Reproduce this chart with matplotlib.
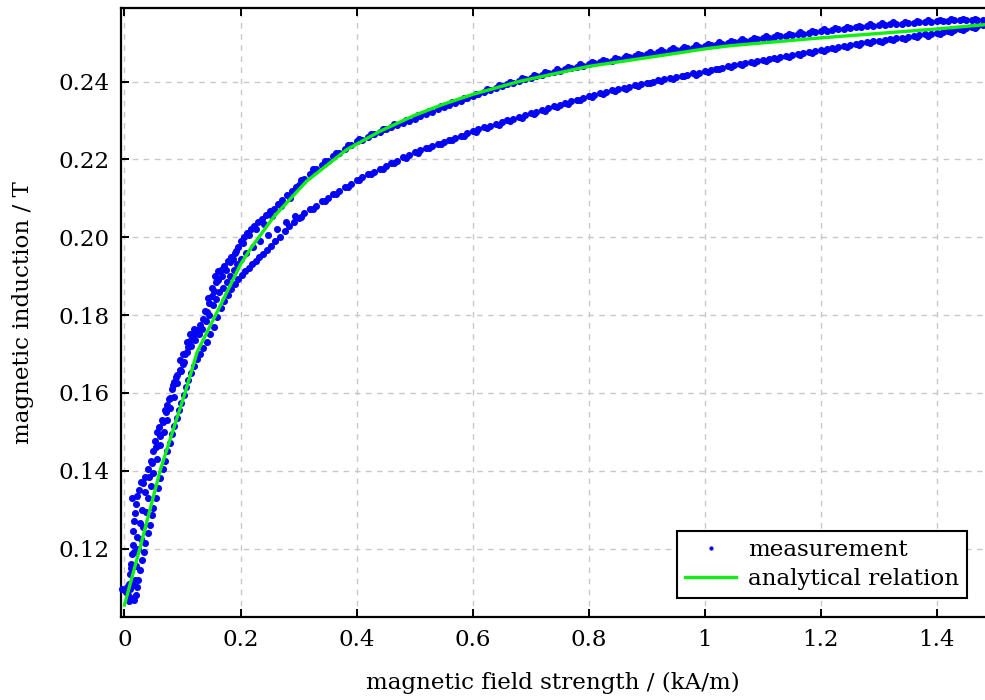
import matplotlib
matplotlib.use("Agg")
import matplotlib.pyplot as plt

# ---------------- data ----------------
# descending (upper) branch of the measured loop
upper_x = [-0.004, 0.002, 0.006, 0.008, 0.010, 0.012, 0.013, 0.014, 0.015, 0.016, 0.018, 0.020,
           0.022, 0.025, 0.028, 0.032, 0.035, 0.040, 0.045, 0.050, 0.053, 0.056, 0.060, 0.065,
           0.070, 0.074, 0.078, 0.082, 0.086, 0.090, 0.095, 0.100, 0.105, 0.110, 0.115, 0.120,
           0.126, 0.131, 0.136, 0.142, 0.146, 0.150, 0.154, 0.158, 0.162, 0.168, 0.172, 0.178,
           0.184, 0.190, 0.196, 0.200, 0.206, 0.212, 0.218, 0.224, 0.230, 0.237, 0.244, 0.250,
           0.257, 0.264, 0.272, 0.280, 0.288, 0.296,
           0.30, 0.31, 0.32, 0.33, 0.34, 0.35, 0.36, 0.37, 0.38, 0.39, 0.40, 0.41, 0.42, 0.43,
           0.44, 0.45, 0.46, 0.47, 0.48, 0.49, 0.50, 0.51, 0.52, 0.53, 0.54, 0.55, 0.56, 0.57,
           0.58, 0.59, 0.60, 0.61, 0.62, 0.63, 0.64, 0.65, 0.66, 0.67, 0.68, 0.69, 0.70, 0.71,
           0.72, 0.73, 0.74, 0.75, 0.76, 0.77, 0.78, 0.79, 0.80, 0.81, 0.82, 0.83, 0.84, 0.85,
           0.86, 0.87, 0.88, 0.89, 0.90, 0.91, 0.92, 0.93, 0.94, 0.95, 0.96, 0.97, 0.98, 0.99,
           1.00, 1.01, 1.02, 1.03, 1.04, 1.05, 1.06, 1.07, 1.08, 1.09, 1.10, 1.11, 1.12, 1.13,
           1.14, 1.15, 1.16, 1.17, 1.18, 1.19, 1.20, 1.21, 1.22, 1.23, 1.24, 1.25, 1.26, 1.27,
           1.28, 1.29, 1.30, 1.31, 1.32, 1.33, 1.34, 1.35, 1.36, 1.37, 1.38, 1.39, 1.40, 1.41,
           1.42, 1.43, 1.44, 1.45, 1.46, 1.47, 1.48]
upper_y = [0.1095, 0.1088, 0.1080, 0.1110, 0.1135, 0.1160, 0.1185, 0.1210, 0.1245, 0.1270, 0.1290, 0.1315,
           0.1335, 0.1350, 0.1372, 0.1368, 0.1385, 0.1405, 0.1425, 0.1450, 0.1475, 0.1500, 0.1512, 0.1530,
           0.1555, 0.1570, 0.1588, 0.1610, 0.1628, 0.1645, 0.1660, 0.1675, 0.1700, 0.1718, 0.1735, 0.1748,
           0.1762, 0.1775, 0.1790, 0.1808, 0.1830, 0.1848, 0.1862, 0.1885, 0.1912, 0.1900, 0.1925, 0.1938,
           0.1950, 0.1960, 0.1975, 0.1990, 0.2000, 0.2012, 0.2020, 0.2030, 0.2040, 0.2048, 0.2058, 0.2068,
           0.2072, 0.2085, 0.2095, 0.2108, 0.2118, 0.2130,
           0.2135, 0.2150, 0.2163, 0.2175, 0.2186, 0.2197, 0.2208, 0.2216, 0.2226, 0.2236, 0.2246, 0.2250, 0.2257, 0.2264,
           0.2271, 0.2278, 0.2284, 0.2289, 0.2294, 0.2299, 0.2305, 0.2311, 0.2317, 0.2323, 0.2329, 0.2335, 0.2340, 0.2346,
           0.2351, 0.2357, 0.2362, 0.2367, 0.2373, 0.2378, 0.2383, 0.2388, 0.2393, 0.2397, 0.2402, 0.2406, 0.2410, 0.2414,
           0.2418, 0.2421, 0.2425, 0.2428, 0.2431, 0.2435, 0.2438, 0.2441, 0.2444, 0.2447, 0.2449, 0.2452, 0.2454, 0.2457,
           0.2460, 0.2462, 0.2465, 0.2467, 0.2470, 0.2472, 0.2475, 0.2477, 0.2480, 0.2482, 0.2484, 0.2486, 0.2487, 0.2489,
           0.2491, 0.2493, 0.2495, 0.2497, 0.2499, 0.2501, 0.2503, 0.2505, 0.2507, 0.2509, 0.2511, 0.2513, 0.2514, 0.2516,
           0.2518, 0.2519, 0.2521, 0.2523, 0.2525, 0.2527, 0.2529, 0.2531, 0.2532, 0.2534, 0.2535, 0.2537, 0.2539, 0.2540,
           0.2542, 0.2543, 0.2545, 0.2546, 0.2547, 0.2548, 0.2549, 0.2550, 0.2551, 0.2552, 0.2553, 0.2554, 0.2555, 0.2556,
           0.2556, 0.2557, 0.2557, 0.2558, 0.2558, 0.2559, 0.2559]

# second pass over the upper branch (the band is two dots thick)
upper2_x = [0.305, 0.325, 0.345, 0.365, 0.385, 0.405, 0.425, 0.445, 0.465, 0.485, 0.505, 0.525,
            0.545, 0.565, 0.585, 0.605, 0.625, 0.645, 0.665, 0.685, 0.705, 0.725, 0.745, 0.765,
            0.785, 0.805, 0.825, 0.845, 0.865, 0.885, 0.905, 0.925, 0.945, 0.965, 0.985, 1.005,
            1.025, 1.045, 1.065, 1.085, 1.105, 1.125, 1.145, 1.165, 1.185, 1.205, 1.225, 1.245,
            1.265, 1.285, 1.305, 1.325, 1.345, 1.365, 1.385, 1.405, 1.425, 1.445, 1.465]
upper2_y = [0.2147, 0.2174, 0.2197, 0.2217, 0.2236, 0.2253, 0.2265, 0.2279, 0.2291, 0.2301, 0.2313, 0.2325,
            0.2337, 0.2348, 0.2359, 0.2369, 0.2380, 0.2390, 0.2400, 0.2409, 0.2417, 0.2424, 0.2431, 0.2438,
            0.2444, 0.2450, 0.2455, 0.2460, 0.2466, 0.2471, 0.2476, 0.2481, 0.2486, 0.2490, 0.2493, 0.2497,
            0.2501, 0.2505, 0.2509, 0.2513, 0.2517, 0.2520, 0.2523, 0.2527, 0.2531, 0.2535, 0.2538, 0.2541,
            0.2544, 0.2547, 0.2550, 0.2552, 0.2554, 0.2556, 0.2558, 0.2559, 0.2560, 0.2561, 0.2561]

# ascending (lower) branch of the measured loop
lower_x = [0.008, 0.012, 0.016, 0.020, 0.022, 0.024, 0.026, 0.030, 0.033, 0.036, 0.040, 0.044,
           0.047, 0.050, 0.054, 0.058, 0.062, 0.066, 0.070, 0.074, 0.078, 0.082, 0.086, 0.090,
           0.094, 0.098, 0.102, 0.106, 0.110, 0.115, 0.120, 0.125, 0.130, 0.136, 0.142, 0.148,
           0.154, 0.160, 0.166, 0.172, 0.178, 0.184, 0.190, 0.196, 0.202, 0.208, 0.214, 0.220,
           0.226, 0.232, 0.238, 0.245, 0.252, 0.260, 0.268, 0.276, 0.284, 0.292,
           0.30, 0.31, 0.32, 0.33, 0.34, 0.35, 0.36, 0.37, 0.38, 0.39, 0.40, 0.41, 0.42, 0.43,
           0.44, 0.45, 0.46, 0.47, 0.48, 0.49, 0.50, 0.51, 0.52, 0.53, 0.54, 0.55, 0.56, 0.57,
           0.58, 0.59, 0.60, 0.61, 0.62, 0.63, 0.64, 0.65, 0.66, 0.67, 0.68, 0.69, 0.70, 0.71,
           0.72, 0.73, 0.74, 0.75, 0.76, 0.77, 0.78, 0.79, 0.80, 0.81, 0.82, 0.83, 0.84, 0.85,
           0.86, 0.87, 0.88, 0.89, 0.90, 0.91, 0.92, 0.93, 0.94, 0.95, 0.96, 0.97, 0.98, 0.99,
           1.00, 1.01, 1.02, 1.03, 1.04, 1.05, 1.06, 1.07, 1.08, 1.09, 1.10, 1.11, 1.12, 1.13,
           1.14, 1.15, 1.16, 1.17, 1.18, 1.19, 1.20, 1.21, 1.22, 1.23, 1.24, 1.25, 1.26, 1.27,
           1.28, 1.29, 1.30, 1.31, 1.32, 1.33, 1.34, 1.35, 1.36, 1.37, 1.38, 1.39, 1.40, 1.41,
           1.42, 1.43, 1.44, 1.45, 1.46, 1.47, 1.48]
lower_y = [0.1065, 0.1072, 0.1068, 0.1080, 0.1100, 0.1120, 0.1145, 0.1170, 0.1190, 0.1215, 0.1240, 0.1260,
           0.1285, 0.1305, 0.1330, 0.1355, 0.1380, 0.1405, 0.1425, 0.1450, 0.1470, 0.1495, 0.1515, 0.1535,
           0.1555, 0.1575, 0.1595, 0.1615, 0.1632, 0.1650, 0.1668, 0.1686, 0.1700, 0.1715, 0.1730, 0.1750,
           0.1770, 0.1795, 0.1818, 0.1835, 0.1852, 0.1866, 0.1880, 0.1892, 0.1903, 0.1912, 0.1920, 0.1930,
           0.1940, 0.1950, 0.1958, 0.1968, 0.1978, 0.1990, 0.2000, 0.2015, 0.2030, 0.2040,
           0.2050, 0.2062, 0.2072, 0.2080, 0.2092, 0.2100, 0.2110, 0.2120, 0.2128, 0.2136, 0.2148, 0.2155, 0.2163, 0.2168,
           0.2174, 0.2182, 0.2190, 0.2197, 0.2205, 0.2211, 0.2218, 0.2223, 0.2229, 0.2234, 0.2240, 0.2245, 0.2250, 0.2256,
           0.2261, 0.2267, 0.2272, 0.2277, 0.2282, 0.2286, 0.2291, 0.2295, 0.2300, 0.2304, 0.2309, 0.2313, 0.2318, 0.2322,
           0.2327, 0.2331, 0.2336, 0.2340, 0.2345, 0.2349, 0.2353, 0.2358, 0.2362, 0.2366, 0.2370, 0.2373, 0.2377, 0.2380,
           0.2384, 0.2387, 0.2391, 0.2394, 0.2397, 0.2400, 0.2403, 0.2406, 0.2409, 0.2412, 0.2415, 0.2418, 0.2421, 0.2423,
           0.2426, 0.2429, 0.2433, 0.2436, 0.2439, 0.2442, 0.2445, 0.2447, 0.2450, 0.2452, 0.2455, 0.2458, 0.2461, 0.2464,
           0.2466, 0.2469, 0.2472, 0.2474, 0.2477, 0.2479, 0.2482, 0.2484, 0.2487, 0.2489, 0.2491, 0.2494, 0.2496, 0.2498,
           0.2501, 0.2503, 0.2505, 0.2507, 0.2509, 0.2511, 0.2513, 0.2515, 0.2517, 0.2519, 0.2521, 0.2523, 0.2525, 0.2527,
           0.2530, 0.2532, 0.2534, 0.2537, 0.2540, 0.2542, 0.2545]

# second pass over the lower branch
lower2_x = [0.305, 0.325, 0.345, 0.365, 0.385, 0.405, 0.425, 0.445, 0.465, 0.485, 0.505, 0.525,
            0.545, 0.565, 0.585, 0.605, 0.625, 0.645, 0.665, 0.685, 0.705, 0.725, 0.745, 0.765,
            0.785, 0.805, 0.825, 0.845, 0.865, 0.885, 0.905, 0.925, 0.945, 0.965, 0.985, 1.005,
            1.025, 1.045, 1.065, 1.085, 1.105, 1.125, 1.145, 1.165, 1.185, 1.205, 1.225, 1.245,
            1.265, 1.285, 1.305, 1.325, 1.345, 1.365, 1.385, 1.405, 1.425, 1.445, 1.465]
lower2_y = [0.2052, 0.2072, 0.2092, 0.2111, 0.2128, 0.2148, 0.2162, 0.2174, 0.2190, 0.2204, 0.2217, 0.2228,
            0.2239, 0.2249, 0.2260, 0.2271, 0.2280, 0.2289, 0.2298, 0.2307, 0.2316, 0.2325, 0.2334, 0.2343,
            0.2352, 0.2360, 0.2368, 0.2375, 0.2382, 0.2389, 0.2395, 0.2401, 0.2407, 0.2413, 0.2418, 0.2424,
            0.2431, 0.2437, 0.2442, 0.2447, 0.2453, 0.2459, 0.2464, 0.2469, 0.2474, 0.2479, 0.2484, 0.2489,
            0.2493, 0.2498, 0.2502, 0.2506, 0.2510, 0.2514, 0.2518, 0.2522, 0.2527, 0.2532, 0.2538]

# extra scatter of the low-field region (x < 0.3)
cloud_x = [0.004, 0.010, 0.014, 0.018, 0.012, 0.020, 0.017, 0.024, 0.021, 0.028, 0.026, 0.032,
           0.030, 0.037, 0.013, 0.040, 0.035, 0.045, 0.042, 0.050, 0.048, 0.056, 0.054, 0.062,
           0.061, 0.068, 0.066, 0.073, 0.072, 0.079, 0.077, 0.085, 0.083, 0.091, 0.089, 0.097,
           0.095, 0.103, 0.101, 0.108, 0.107, 0.114, 0.113, 0.121, 0.119, 0.128, 0.134, 0.140,
           0.138, 0.146, 0.144, 0.152, 0.150, 0.157, 0.156, 0.163, 0.161, 0.170, 0.166, 0.176,
           0.175, 0.182, 0.181, 0.188, 0.187, 0.194, 0.193, 0.200, 0.205, 0.210, 0.215, 0.222,
           0.226, 0.234, 0.240, 0.248, 0.254, 0.262, 0.270, 0.278, 0.286, 0.294]
cloud_y = [0.1100, 0.1095, 0.1105, 0.1120, 0.1150, 0.1155, 0.1190, 0.1200, 0.1230, 0.1225, 0.1265, 0.1255,
           0.1300, 0.1295, 0.1330, 0.1330, 0.1345, 0.1360, 0.1385, 0.1395, 0.1420, 0.1430, 0.1460, 0.1465,
           0.1490, 0.1500, 0.1525, 0.1530, 0.1550, 0.1560, 0.1585, 0.1590, 0.1620, 0.1625, 0.1640, 0.1655,
           0.1685, 0.1680, 0.1700, 0.1705, 0.1730, 0.1720, 0.1750, 0.1735, 0.1765, 0.1750, 0.1765, 0.1785,
           0.1810, 0.1800, 0.1845, 0.1825, 0.1870, 0.1840, 0.1900, 0.1860, 0.1890, 0.1870, 0.1915, 0.1885,
           0.1915, 0.1900, 0.1935, 0.1915, 0.1945, 0.1930, 0.1965, 0.1945, 0.1985, 0.1960, 0.2005, 0.1975,
           0.2020, 0.1990, 0.2035, 0.2005, 0.2055, 0.2020, 0.2080, 0.2040, 0.2100, 0.2055]

# analytical relation (green line)
model_x = [0.0, 0.0275, 0.062, 0.105, 0.125, 0.157, 0.200, 0.217, 0.257, 0.314, 0.383,
           0.44, 0.498, 0.55, 0.60, 0.682, 0.80, 0.957, 1.0, 1.043, 1.198, 1.399, 1.482]
model_y = [0.1055, 0.1206, 0.1403, 0.1603, 0.1704, 0.1800, 0.1930, 0.1970, 0.2052, 0.2144, 0.2225,
           0.2272, 0.2312, 0.2342, 0.2367, 0.2401, 0.2439, 0.2474, 0.2484, 0.2492, 0.2512, 0.2535, 0.2546]

x_ticks = [0, 0.2, 0.4, 0.6, 0.8, 1.0, 1.2, 1.4]
x_tick_labels = ["0", "0.2", "0.4", "0.6", "0.8", "1", "1.2", "1.4"]
y_ticks = [0.12, 0.14, 0.16, 0.18, 0.20, 0.22, 0.24]
y_tick_labels = ["0.12", "0.14", "0.16", "0.18", "0.20", "0.22", "0.24"]

# ---------------- figure ----------------
plt.rcParams['font.family'] = ['DejaVu Serif']
plt.rcParams['font.size'] = 16.6

fig = plt.figure(figsize=(9.85, 7.0), dpi=100)
ax = fig.add_axes([121 / 985, 83 / 700, 1 - 121 / 985, 609 / 700])

meas_x = upper_x + upper2_x + lower_x + lower2_x + cloud_x
meas_y = upper_y + upper2_y + lower_y + lower2_y + cloud_y
ax.plot(meas_x, meas_y, linestyle='none', marker='o',
        markersize=5.1, markeredgewidth=0, color='#0505f5', label='measurement', zorder=3,
        clip_on=False)
ax.plot(model_x, model_y, color='#11ee11', lw=2.4, label='analytical relation', zorder=4)

ax.set_xlim(-0.006, 1.483)
ax.set_ylim(0.1024, 0.2589)
ax.set_xticks(x_ticks)
ax.set_xticklabels(x_tick_labels)
ax.set_yticks(y_ticks)
ax.set_yticklabels(y_tick_labels)

ax.grid(True, color='#c8c8c8', linestyle=(0, (4, 4)), lw=1.0)
ax.set_axisbelow(True)
ax.tick_params(direction='in', top=True, right=False, length=6, width=1.4, pad=8.5)
for side in ['left', 'bottom', 'top']:
    ax.spines[side].set_linewidth(1.6)
ax.spines['right'].set_visible(False)

ax.set_xlabel('magnetic field strength / (kA/m)', labelpad=15)
ax.set_ylabel('magnetic induction / T', labelpad=17)

leg = ax.legend(loc='lower right', bbox_to_anchor=(0.979, 0.031), borderaxespad=0,
                fancybox=False, edgecolor='black', framealpha=1, markerscale=0.6,
                handlelength=2.2, borderpad=0.35, labelspacing=0.3, handletextpad=0.5)
leg.get_frame().set_linewidth(1.5)

fig.savefig('out.png', dpi=100)
